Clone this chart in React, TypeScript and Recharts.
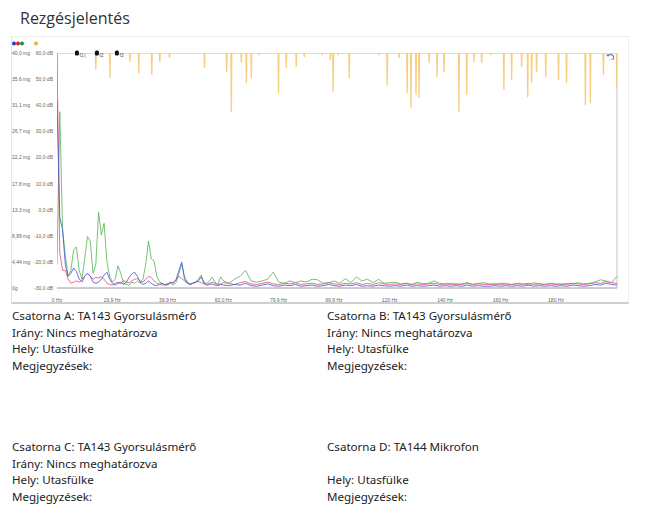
import React from 'react';
import { LineChart, Line, XAxis, YAxis, ReferenceLine, ReferenceDot } from 'recharts';

// ---------- data ----------
const mgFreq = [
  0, 1, 2, 3, 4, 5, 6, 7, 8, 9, 10, 11, 12, 13, 14, 15, 16, 17, 18, 19, 20, 21, 22, 23, 24, 25, 26, 27, 28, 29,
  30, 31, 32, 33, 34, 35, 36, 37, 38, 39, 40, 41, 42, 43, 44, 45, 46, 47, 48, 49, 50, 51, 52, 53, 54, 55, 56, 57, 58, 59, 60,
  62, 64, 66, 68, 70, 72, 74, 76, 78, 80, 82, 84, 86, 88, 90, 92, 94, 96, 98, 100, 102, 104, 106, 108, 110, 112, 114, 116, 118, 120,
  122, 124, 126, 128, 130, 132, 134, 136, 138, 140, 142, 144, 146, 148, 150, 152, 154, 156, 158, 160, 162, 164, 166, 168, 170, 172, 174, 176, 178, 180,
  182, 184, 186, 188, 190, 192, 194, 196, 198, 200, 202,
];

// Csatorna A (blue), mg
const channelA = [
  32, 12, 10, 4, 2, 2.5, 3.4, 2.8, 1.5, 1,
  2, 2.5, 2, 1, 0.8, 1, 1.5, 2.2, 2.7, 1.5,
  0.8, 0.5, 0.8, 1, 0.6, 1, 1.8, 2.4, 2.7, 2,
  1, 0.6, 0.8, 1.2, 0.8, 0.5, 0.4, 0.6, 0.8, 0.5,
  0.6, 1, 0.8, 1.5, 3, 4.4, 1.5, 0.8, 0.6, 0.8,
  1, 1.2, 1.9, 0.8, 0.5, 0.6, 0.7, 0.5, 0.4, 0.6, 0.5,
  0.4, 0.6, 0.5, 0.8, 0.4, 0.3, 0.5, 0.7, 0.4, 0.3,
  0.5, 0.4, 0.6, 0.3, 0.4, 0.5, 0.3, 0.4, 0.6, 0.4,
  0.3, 0.5, 0.4, 0.6, 0.3, 0.4, 0.3, 0.5, 0.4, 0.3,
  0.4, 0.3, 0.5, 0.3, 0.4, 0.3, 0.4, 0.5, 0.3, 0.4,
  0.3, 0.4, 0.3, 0.5, 0.3, 0.4, 0.3, 0.3, 0.4, 0.3,
  0.4, 0.3, 0.4, 0.3, 0.5, 0.3, 0.4, 0.3, 0.4, 0.3,
  0.4, 0.3, 0.5, 0.4, 0.3, 0.4, 0.6, 0.5, 0.8, 0.6, 0.5,
];

// Csatorna B (red), mg
const channelB = [
  40, 6, 3, 3, 1.5, 0.8, 1, 1.2, 1, 1.5,
  2, 2.5, 2, 1.5, 1.8, 1.7, 1.9, 1.5, 0.8, 0.6,
  0.5, 0.8, 1, 0.7, 1.3, 1, 0.9, 1.2, 1.5, 1.6,
  1.2, 1, 1.5, 2, 1.8, 1.2, 0.8, 0.7, 0.5, 0.6,
  0.8, 0.9, 1, 1.4, 2, 1.6, 1.2, 0.9, 0.7, 0.8,
  1, 1.1, 0.9, 0.7, 0.6, 0.8, 1, 0.8, 0.6, 0.7, 0.9,
  0.8, 0.6, 0.9, 1.1, 0.7, 0.6, 0.8, 1, 0.7, 0.6,
  0.8, 0.7, 0.9, 0.6, 0.7, 0.8, 0.6, 0.7, 0.9, 0.7,
  0.6, 0.8, 0.7, 0.9, 0.6, 0.8, 0.6, 0.9, 0.7, 0.6,
  0.7, 0.6, 0.8, 0.6, 0.7, 0.6, 0.7, 0.8, 0.6, 0.7,
  0.6, 0.7, 0.6, 0.8, 0.6, 0.7, 0.6, 0.6, 0.7, 0.6,
  0.7, 0.6, 0.7, 0.6, 0.8, 0.6, 0.7, 0.6, 0.7, 0.6,
  0.7, 0.6, 0.8, 0.7, 0.6, 0.7, 0.9, 0.8, 1.1, 0.9, 0.8,
];

// Csatorna C (green), mg
const channelC = [
  4, 30, 10, 5.5, 2, 3, 6.5, 7, 3, 1.5,
  5, 8.8, 8, 2.5, 4, 12.9, 9, 11, 4.5, 2,
  1, 1.5, 3.8, 2.5, 0.8, 0.6, 0.5, 1, 0.8, 1.2,
  0.8, 1.5, 4, 8, 5, 4.6, 2, 1, 0.8, 0.5,
  0.6, 0.8, 0.5, 1, 2.5, 4, 2, 1, 0.6, 0.8,
  1, 1.5, 2.2, 1, 0.8, 1.2, 1.8, 1, 0.6, 1.9, 1.2,
  0.8, 1.5, 2, 3, 1.2, 1, 1.2, 1.5, 2.7, 1,
  0.8, 1.2, 0.9, 1.2, 1, 1.5, 1.4, 0.8, 0.9, 1.2,
  0.8, 1.6, 0.9, 1.9, 1.2, 1.5, 0.9, 1.5, 0.8, 0.9,
  1, 0.7, 0.8, 0.6, 1, 0.7, 0.8, 1.2, 0.8, 0.7,
  0.8, 0.6, 0.7, 0.9, 0.6, 0.8, 0.9, 0.7, 0.6, 0.8,
  0.7, 0.6, 0.8, 0.7, 0.6, 0.9, 0.7, 0.6, 0.8, 0.7,
  0.6, 0.8, 0.7, 0.9, 0.7, 0.8, 1, 1.4, 1.2, 0.9, 2,
];

// Csatorna D (orange, microphone), dB: downward spikes from the 60 dB ceiling
const dFreq = [
  0, 10.1, 14.0, 19.1, 26.3, 29.5, 34.2, 37.1, 40.6, 53.2, 61.2, 62.9, 66.5, 68.3, 70.1, 73.0, 79.9, 82.7, 86.3, 89.2,
  95.7, 98.6, 99.6, 101.4, 105.4, 116.2, 119.1, 123.4, 126.3, 127.7, 129.5, 130.6, 134.2, 137.1, 139.6, 145.0, 147.8,
  150.4, 153.2, 156.5, 161.2, 164.0, 167.6, 169.8, 171.2, 173.0, 176.3, 180.9, 183.8, 190.6, 192.4, 197.1, 202,
];
const dLevel = [
  48, 58.1, 53.5, 50.4, 56.6, 52.3, 51.6, 56.6, 58.1, 54.3, 52.7, 37.4, 56.2, 48.5, 50.4, 59.2, 44.7, 54.3, 54.6, 58.5,
  59.2, 57.3, 45, 59.2, 50.4, 59.2, 47.7, 58.1, 44.7, 38.9, 43.9, 42.8, 56.2, 50.8, 52.7, 37.4, 43.9,
  56.6, 56.2, 59.2, 45.8, 49.7, 54.6, 43.1, 48.5, 52.7, 50.8, 49.7, 48.5, 40.1, 40.9, 51.6, 46,
];
const dCeiling = 60;

const mgTicks = [0, 4.444, 8.889, 13.333, 17.778, 22.222, 26.667, 31.111, 35.556, 40];
const mgTickLabels = ['0g', '4,44 mg', '8,89 mg', '13,3 mg', '17,8 mg', '22,2 mg', '26,7 mg', '31,1 mg', '35,6 mg', '40,0 mg'];
const dbTickLabels = ['-30,0 dB', '-20,0 dB', '-10,0 dB', '0,0 dB', '10,0 dB', '20,0 dB', '30,0 dB', '40,0 dB', '50,0 dB', '60,0 dB'];

const xTicks = [0, 19.9, 39.9, 60, 79.9, 99.9, 120, 140, 160, 180];
const xTickLabels = ['0 Hz', '19,9 Hz', '39,9 Hz', '60,0 Hz', '79,9 Hz', '99,9 Hz', '120 Hz', '140 Hz', '160 Hz', '180 Hz'];
const xMax = 202;

const cursorFreqs = [7.2, 14.4, 21.6];
const cursorLabels = ['f1', 'f2', 'f3'];

const infoA = ['Csatorna A: TA143 Gyorsulásmérő', 'Irány: Nincs meghatározva', 'Hely: Utasfülke', 'Megjegyzések:'];
const infoB = ['Csatorna B: TA143 Gyorsulásmérő', 'Irány: Nincs meghatározva', 'Hely: Utasfülke', 'Megjegyzések:'];
const infoC = ['Csatorna C: TA143 Gyorsulásmérő', 'Irány: Nincs meghatározva', 'Hely: Utasfülke', 'Megjegyzések:'];
const infoD = ['Csatorna D: TA144 Mikrofon', '', 'Hely: Utasfülke', 'Megjegyzések:'];

// ---------- table ----------
type Row = { f: number; a?: number; b?: number; c?: number; d?: number };
const rows: Row[] = [];
mgFreq.forEach((f, i) => rows.push({ f, a: channelA[i], b: channelB[i], c: channelC[i] }));
dFreq.forEach((f, i) => {
  if (f > 0) rows.push({ f: Math.max(0, f - 0.15), d: dCeiling });
  rows.push({ f, d: dLevel[i] });
  if (f < xMax) rows.push({ f: Math.min(xMax, f + 0.15), d: dCeiling });
});
rows.sort((p, q) => p.f - q.f);

const COLORS = { a: '#4650d8', b: '#e4506e', c: '#5cb85c', d: '#f6c668' };

const YTick = (props: any) => {
  const { y, payload } = props;
  let idx = mgTicks.indexOf(payload.value);
  if (idx < 0) idx = 0;
  return (
    <g>
      <text x={12} y={y} dy={2} fontSize={5} fill="#666" textAnchor="start" fontFamily="Liberation Sans, Arial, sans-serif">
        {mgTickLabels[idx]}
      </text>
      <text x={53} y={y} dy={2} fontSize={5} fill="#666" textAnchor="end" fontFamily="Liberation Sans, Arial, sans-serif">
        {dbTickLabels[idx]}
      </text>
    </g>
  );
};

const XTick = (props: any) => {
  const { x, y, payload } = props;
  const idx = xTicks.indexOf(payload.value);
  return (
    <text x={x} y={y + 6} fontSize={5} fill="#666" textAnchor="middle" fontFamily="Liberation Sans, Arial, sans-serif">
      {idx >= 0 ? xTickLabels[idx] : ''}
    </text>
  );
};

const textStyle: React.CSSProperties = {
  position: 'absolute',
  fontFamily: '"Noto Sans", "Open Sans", sans-serif',
  fontSize: 11.6,
  color: '#222',
  lineHeight: '16.5px',
  whiteSpace: 'nowrap',
};

const InfoBlock = ({ lines, left, top }: { lines: string[]; left: number; top: number }) => (
  <div style={{ ...textStyle, left, top }}>
    {lines.map((l, i) => (
      <div key={i} style={{ height: 16.5 }}>{l}</div>
    ))}
  </div>
);

export default function App() {
  return (
    <div style={{ position: 'absolute', left: 0, top: 0, width: 645, height: 509, background: '#fff', overflow: 'hidden' }}>
      <div
        style={{
          position: 'absolute',
          left: 20,
          top: 7,
          fontFamily: '"Open Sans", "Noto Sans", sans-serif',
          fontSize: 16,
          color: '#333',
          lineHeight: '22px',
        }}
      >
        Rezgésjelentés
      </div>
      {/* chart frame */}
      <div
        style={{
          position: 'absolute',
          left: 11,
          top: 36,
          width: 616,
          height: 265,
          borderLeft: '1px solid #e4e4e4',
          borderTop: '1px solid #eeeeee',
          borderRight: '1px solid #eeeeee',
          borderBottom: '2px solid #cfcfcf',
        }}
      />
      <div style={{ position: 'absolute', left: 0, top: 0 }}>
        <LineChart width={645} height={310} data={rows} margin={{ top: 53, right: 28, bottom: 2, left: 12 }}>
          <XAxis
            dataKey="f"
            type="number"
            domain={[0, xMax]}
            ticks={xTicks}
            tick={<XTick />}
            tickLine={false}
            axisLine={{ stroke: '#9a9a9a' }}
            height={20}
            interval={0}
            allowDataOverflow
          />
          <YAxis
            yAxisId="mg"
            type="number"
            domain={[0, 40]}
            ticks={mgTicks}
            tick={<YTick />}
            tickSize={3}
            tickLine={{ stroke: '#9a9a9a' }}
            axisLine={{ stroke: '#9a9a9a' }}
            width={45}
            interval={0}
            allowDataOverflow
          />
          <YAxis yAxisId="db" type="number" domain={[-30, 60]} hide allowDataOverflow />
          <ReferenceLine yAxisId="mg" x={xMax} stroke="#c4c4c4" />
          <Line yAxisId="db" dataKey="d" type="linear" stroke={COLORS.d} strokeWidth={1.3} strokeOpacity={0.85} dot={false} connectNulls isAnimationActive={false} />
          <Line yAxisId="mg" dataKey="c" type="linear" stroke={COLORS.c} strokeWidth={1} strokeOpacity={0.85} dot={false} connectNulls isAnimationActive={false} />
          <Line yAxisId="mg" dataKey="b" type="linear" stroke={COLORS.b} strokeWidth={1} strokeOpacity={0.8} dot={false} connectNulls isAnimationActive={false} />
          <Line yAxisId="mg" dataKey="a" type="linear" stroke={COLORS.a} strokeWidth={1} strokeOpacity={0.8} dot={false} connectNulls isAnimationActive={false} />
          {cursorFreqs.map((f, i) => (
            <ReferenceDot
              key={i}
              yAxisId="mg"
              x={f}
              y={40}
              r={2}
              shape={(p: any) => (
                <g>
                  <rect x={p.cx - 2} y={p.cy - 2.5} width={4} height={5} rx={1.5} fill="#111" />
                  <text x={p.cx + 2.5} y={p.cy + 4} fontSize={5} fill="#555" fontFamily="Liberation Sans, Arial, sans-serif">
                    {cursorLabels[i]}
                  </text>
                </g>
              )}
            />
          ))}
        </LineChart>
      </div>
      {/* channel colour dots */}
      <svg style={{ position: 'absolute', left: 0, top: 0 }} width={645} height={60}>
        <circle cx={14} cy={43.5} r={2} fill="#2a3ad0" />
        <circle cx={18} cy={43.5} r={2} fill="#e02030" />
        <circle cx={22} cy={43.5} r={2} fill="#1a9a2a" />
        <circle cx={36} cy={43.5} r={2} fill="#f2b233" />
        <g transform="translate(611,58)" fill="none" stroke="#7080a8" strokeWidth={1.2}>
          <path d="M -3 -2 A 3 3 0 1 1 -2 2" />
          <path d="M -4.5 -3.5 L -3 -2 L -1.5 -3.5" />
        </g>
      </svg>
      <InfoBlock lines={infoA} left={12} top={308} />
      <InfoBlock lines={infoB} left={327} top={308} />
      <InfoBlock lines={infoC} left={12} top={439} />
      <InfoBlock lines={infoD} left={327} top={439} />
    </div>
  );
}
